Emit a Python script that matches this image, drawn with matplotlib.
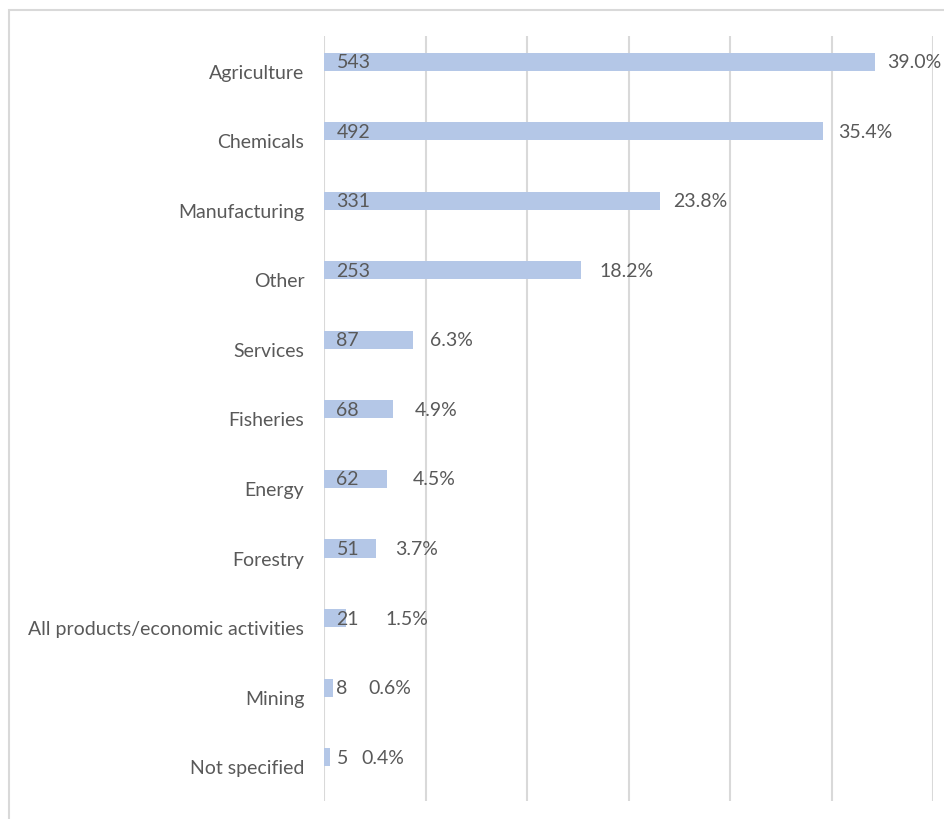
import matplotlib
matplotlib.use("Agg")
import matplotlib.pyplot as plt
from matplotlib.patches import Rectangle

# sectors, number of measures and share of total
sectors = ["Agriculture", "Chemicals", "Manufacturing", "Other", "Services",
           "Fisheries", "Energy", "Forestry", "All products/economic activities",
           "Mining", "Not specified"]
counts = [543, 492, 331, 253, 87, 68, 62, 51, 21, 8, 5]
shares = [39.0, 35.4, 23.8, 18.2, 6.3, 4.9, 4.5, 3.7, 1.5, 0.6, 0.4]

# gap (pixels) between bar end and the share label
pct_gap = [12, 15, 13, 18, 17, 21, 25, 19, 40, 36, 32]

BAR = "#B4C7E7"
TXT = "#595959"
GRID = "#D9D9D9"

plt.rcParams['font.family'] = ['Lato', 'DejaVu Sans']

fig = plt.figure(figsize=(9.44, 8.2), dpi=100)
ax = fig.add_axes([0.3437, 0.0220, 0.6446, 0.9329])

n = len(sectors)
ypos = list(range(n))
bar_h = 0.26
ax.barh([y - bar_h / 2 for y in ypos], counts, height=bar_h, color=BAR, zorder=2)

for y, c, s, g in zip(ypos, counts, shares, pct_gap):
    yb = y - bar_h / 2
    ax.annotate(str(c), (0, yb), xytext=(12, 0), textcoords="offset pixels",
                ha="left", va="center", fontsize=14, color=TXT, zorder=3)
    ax.annotate("%.1f%%" % s, (c, yb), xytext=(g, 0), textcoords="offset pixels",
                ha="left", va="center", fontsize=14, color=TXT, zorder=3)

ax.set_xlim(0, 600)
ax.set_ylim(n - 0.5, -0.5)
ax.set_xticks(range(0, 601, 100))
ax.set_xticklabels([])
ax.set_yticks(ypos)
ax.set_yticklabels(sectors, fontsize=14, color=TXT)
ax.tick_params(axis="both", length=0, pad=14.5)
ax.grid(axis="x", color=GRID, linewidth=1.5, zorder=0)
for sp in ax.spines.values():
    sp.set_visible(False)

# chart area frame
fig.patches.append(Rectangle((8.5 / 944, -0.1), 1.2, 1 - 11 / 820 + 0.1,
                             transform=fig.transFigure, fill=False,
                             edgecolor=GRID, linewidth=1.5))

fig.savefig("out.png", dpi=100)
